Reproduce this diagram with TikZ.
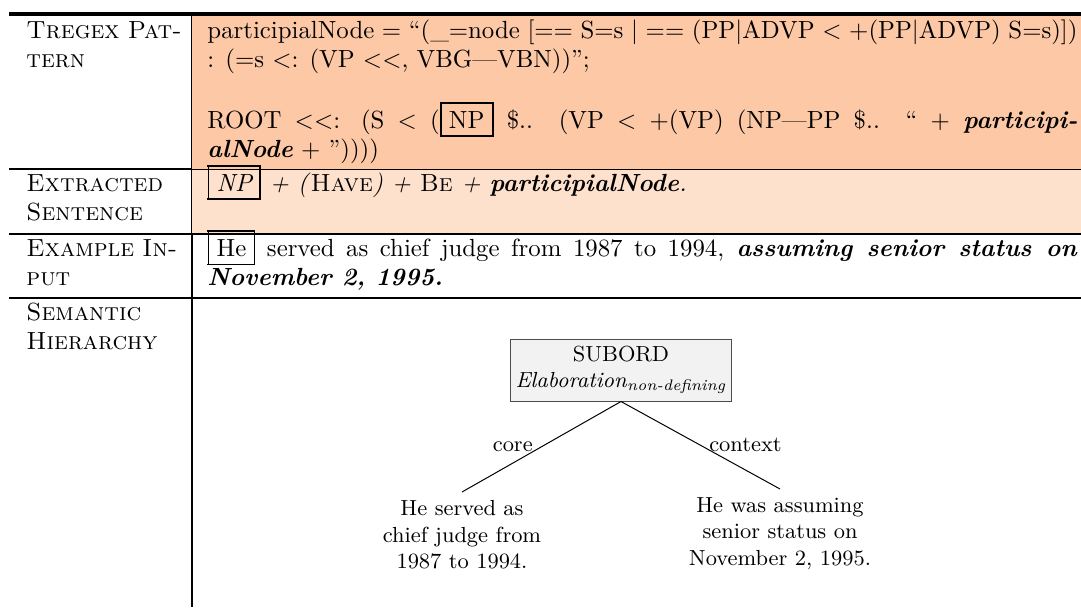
\documentclass[tikz,border=0pt]{standalone}
\usepackage{amsmath}
\usetikzlibrary{positioning}

\definecolor{patcol}{RGB}{252,200,165}
\definecolor{sentcol}{RGB}{253,225,205}
\definecolor{boxcol}{RGB}{242,242,242}
\setlength{\fboxrule}{0.7pt}

\newcommand{\bit}[1]{\textbf{\textit{#1}}}
\newcommand{\treefont}{\fontsize{8.8}{10.6}\selectfont}

\tikzset{
  head/.style={anchor=base west, inner sep=0pt, text width=75pt, align=left},
  cell/.style={anchor=base west, inner sep=0pt, text width=350.8pt, align=justify},
  relbox/.style={draw=black!70, fill=boxcol, align=center, font=\treefont,
                 minimum width=88pt, minimum height=25pt, inner sep=2pt},
  leaf/.style={anchor=north, align=center, font=\treefont},
  edgelbl/.style={font=\treefont, midway},
}

\begin{document}
\begin{tikzpicture}[x=0.4032pt, y=-0.4032pt]
\useasboundingbox (0,0) rectangle (1081,607);

% table frame and colours
\draw[line width=0.8pt] (192,16) -- (192,607);
\fill[patcol] (192,16) rectangle (1081,169);
\fill[sentcol] (192,169) rectangle (1081,234);
\draw[line width=1.3pt] (9,14) -- (1081,14);
\draw[line width=0.8pt] (9,169) -- (192,169);
\draw[line width=0.4pt] (192,169) -- (1081,169);
\draw[line width=0.8pt] (9,234) -- (1081,234);
\draw[line width=0.8pt] (9,298) -- (1081,298);

% left column
\node[head] (tregex) at (26,38) {\textsc{Tregex Pat-}\\\textsc{tern}};
\node[head] (extracted) at (26,191) {\textsc{Extracted}\\\textsc{Sentence}};
\node[head] (example) at (26,256) {\textsc{Example In-}\\\textsc{put}};
\node[head] (semantic) at (26,320) {\textsc{Semantic}\\\textsc{Hierarchy}};

% right column
\node[cell] (pattern) at (207,38) {participialNode = “(\_=node [== S=s | == (PP|ADVP < +(PP|ADVP) S=s)])\linebreak : (=s <: (VP <{}<, VBG—VBN))”;};
\node[cell] (root) at (207,128) {ROOT <{}<: (S < (\fbox{NP} \$.. (VP < +(VP) (NP—PP \$.. “ + \bit{participi-}\linebreak \bit{alNode} + ”))))};
\node[cell] (sentence) at (207,191) {\itshape\fbox{NP} + (\textup{\textsc{Have}}) + \textup{\textsc{Be}} + \textbf{participialNode}.};
\node[cell] (input) at (207,256) {\fbox{He} served as chief judge from 1987 to 1994, \bit{assuming senior status on}\linebreak \bit{November 2, 1995.}};

% semantic hierarchy
\node[relbox] (subord) at (621,370) {SUBORD\\\textit{Elaboration}$_{\textit{non-defining}}$};
\node[leaf] (corenode) at (462,492) {He served as\\chief judge from\\1987 to 1994.};
\node[leaf] (contextnode) at (780,489) {He was assuming\\senior status on\\November 2, 1995.};
\draw (subord.south) -- node[edgelbl, left] (corelbl) {core} (corenode.north);
\draw (subord.south) -- node[edgelbl, right] (contextlbl) {context} (contextnode.north);
\end{tikzpicture}
\end{document}
